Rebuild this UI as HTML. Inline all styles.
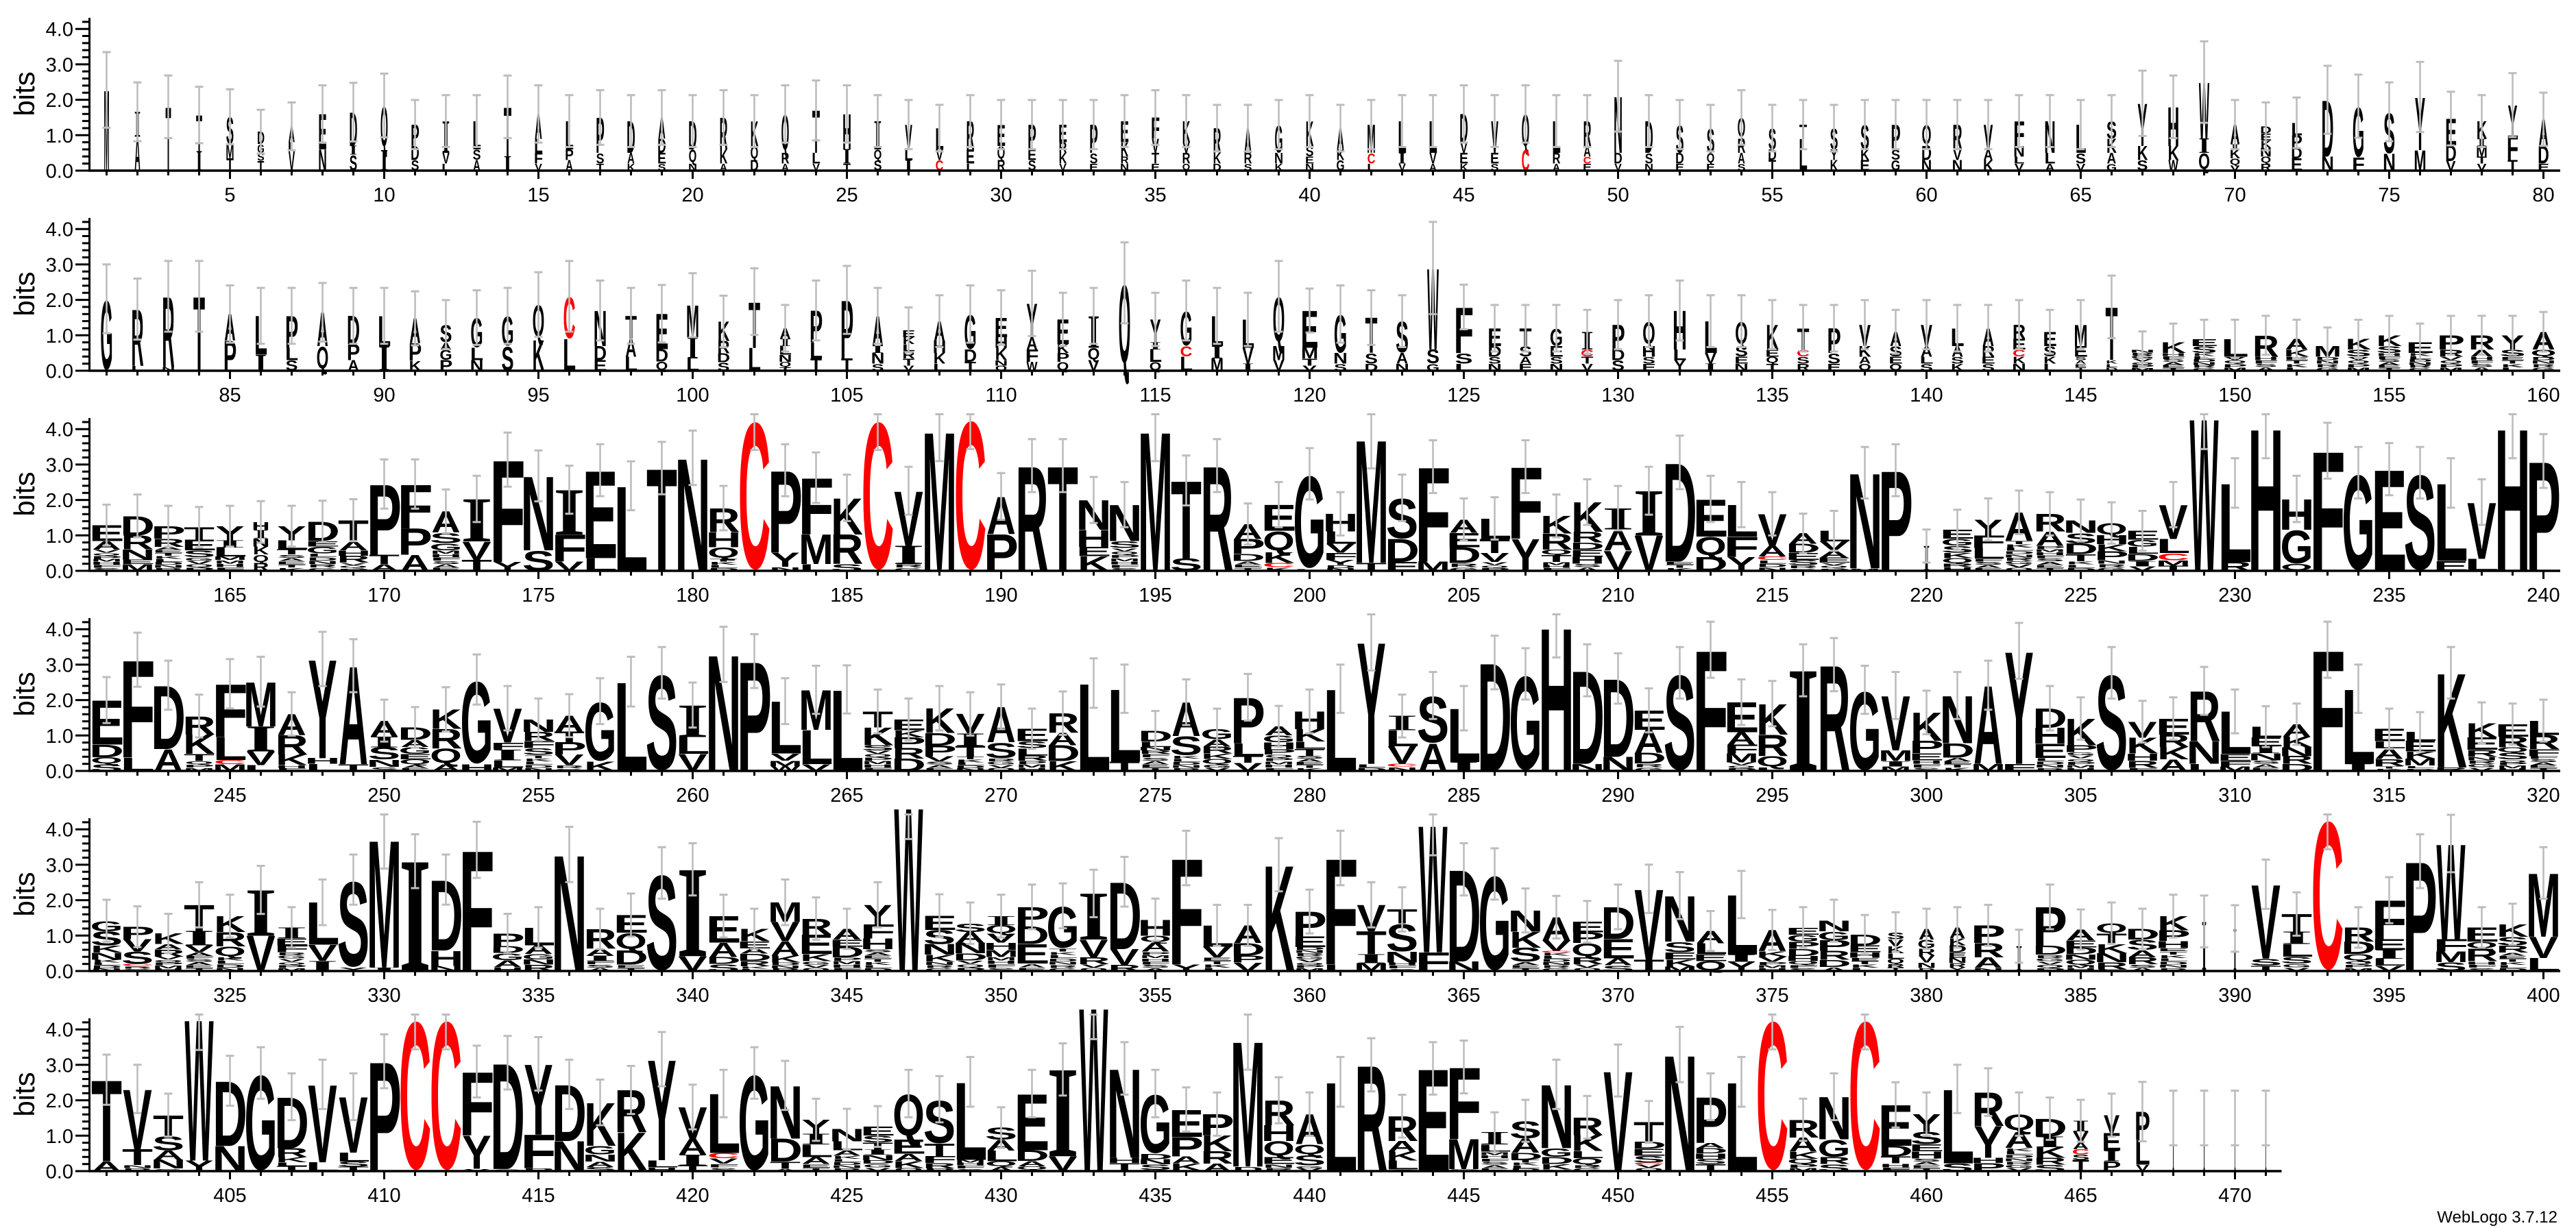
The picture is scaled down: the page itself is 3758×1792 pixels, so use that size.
<!DOCTYPE html>
<html><head><meta charset="utf-8">
<style>
html,body{margin:0;padding:0;background:#fff;width:3758px;height:1792px;overflow:hidden}
#root svg{display:block}
</style></head>
<body>
<div id="root"></div>
<script>
(function(){
var R=[
"%16 M228|%20 I70 A96|%18 T180|%20 T102 I55|%24 S77 M40 T35|%22 D35 G25 S22 T28|%22 A45 L25 V55|%24 E100 N60|%24 D95 I25 S45|%24 Q126 I58|%25 P60 D40 S30|%25 I90 V30 L20|%25 L80 S30 A30|%25 T140 I40|%25 A70 L40 F30 V20|%25 L80 P30 A30|%25 P100 S30 T20|%25 D90 A30 K20|%25 A60 D40 E30 S20|%25 D80 Q40 N20|%25 R90 K40 A20|%25 K70 Q40 D30|%25 Q110 R30 A20|%25 T120 L30 V20|%25 H100 I40 T20|%25 I80 Q30 S30|%25 V70 L30 I30|%25 L60 V30 C30|%25 R80 E40 L20|%25 E60 Q40 R30|%25 P70 E30 S30|%25 E50 R30 K30 V20|%25 P80 S30 E20|%25 E60 K40 R20 N20|%25 F60 V40 T30 E20|%25 K60 V30 R30 Q20|%25 R70 K30 D20|%25 A70 R30 S20|%25 G80 N30 K20|%25 K70 S30 E20 N20|%25 A60 K30 G30|%25 M80 C30 L20|%25 L90 I30 V20|%25 L90 V30 A20|%25 D80 V30 E30 K20|%25 V90 E30 S20|%25 Q100 C60|%25 L90 R30 A20|%25 R70 A30 C20 E20|%25 N160 D30 V20|%25 D90 S30 N20|%25 S80 D30 E20|%25 S70 Q30 E20|%25 Q60 R40 A30 S20|%25 S60 D30 T30|%25 T40 L90|%25 S60 Y30 K30|%28 S70 K30 E30|%28 P70 S30 G30|%30 Q60 D40 N30|%30 R70 V30 N30|%32 V70 A30 K30|%32 F70 N30 L20 V20|%32 N90 L30 A20|%32 L80 S30 V20|%32 S50 K40 A30 G20|%34 Y120 K40 S30|%34 H110 K40 W30|%36 W160 I40 Q50|%33 A55 I15 K25 Q20 V15|%33 D20 E20 K20 N25 Q20 R20|%33 L35 P35 D30 E35|%36 D160 N40|%36 G145 F37|%36 S118 N48|%36 Y150 M58|%33 E75 D45 V27|%33 K50 I20 M30 T20 V20|%33 Y85 F70 T30|%33 A75 D50 E20",
"%38 G203|%38 R160 L14|%38 R200 N10|%38 T210|%38 A75 P85|%38 L110 I45|%38 P90 L35 S30|%38 A95 Q70|%38 D80 P45 A30|%38 L85 I70|%38 A70 P50 K28|%38 S50 A20 G30 P30|%38 G85 L35 N30|%38 G85 S70|%38 Q100 K87|%38 C120 L90|%38 N100 D40 E30|%38 T65 A50 L40|%38 E100 D35 Q26|%38 M90 I60 L35|%38 K55 R35 D25 S24|%38 T130 L65|%38 A30 I20 L25 N20 Q15 T10|%38 P90 L45 T35|%38 P165 T35|%38 A85 I20 N30 S20|%38 E20 K20 L20 R20 T20 V15|%38 A55 H35 K30 L20|%38 G100 D35 T25|%38 E55 H30 K35 N15 Q15|%38 Y95 A35 F35 W25|%38 E70 K25 P25 Q25|%38 I90 Q35 V30|%38 Q248|%38 Y65 I20 L35 Q25|%38 G100 C30 L40|%38 L85 I35 M35|%38 L80 V45 I20|%38 Q140 M40 V30|%50 E105 M30 T20 V15|%40 G110 N30 S20|%40 T100 S30 D20|%40 S90 A30 N20|%40 W230 S40 G20|%55 F130 S30 L20|%40 E50 D30 S20 N20|%40 T50 S30 A20 E20|%40 G50 E30 S20 N20|%40 I50 C20 T20 V20|%40 P70 D30 S30|%40 Q70 H30 S20 E20|%40 H110 L30 Y30|%40 L90 V30 I20|%40 Q70 S30 E20 N20|%40 K70 E20 Q20 T20|%40 T60 C20 S20 R20|%40 P70 S30 E20|%40 V60 K30 A20 Q20|%40 A40 S30 E20 Q20|%40 V60 A30 L20 S20|%40 L50 A30 S20 K20|%40 A50 R30 E20 S20|%40 R40 E30 C20 K20 N20|%40 E40 S30 K20 L20|%40 M60 E30 *40|%40 T150 *30|%80 *60|%80 K30 *50|%80 E20 S20 *50|%80 L50 *40|%80 R60 *40|%80 A30 K20 *40|%80 M30 *40|%80 K30 S20 *40|%80 K30 S20 *50|%80 E30 *50|%80 P40 R20 *40|%80 R40 A20 *40|%80 Y40 S20 *40|%80 A50 Q20 *40",
"E45 A24 *60|D55 R39 N29 E13 M19|P35 R23 *68|T35 E30 S20 *38|Y40 I20 L25 M10 *31|%50 H23 I23 N23 K23 Q23 R23|Y40 L25 T15 *46|D55 E15 G20 *49|T60 A25 H15 R20 *23|P200 T26 A19|F125 P75 A45|A60 S30 G20 *58|I120 V52 T31|F289 Y25|N210 S58|I126 F77 V26|E248 L36|L240|T290|N319|R68 H42 Q32 *35|C429|P232 Y40 *12|F160 M84 L19|K103 R84 S19|C429|V155 I52 *19|M394|C432|A106 P104|R297|T297|N84 H48 E26 K42|N103 S20 *64|M394|T220 S35|R297|A42 P42 D20 *28|E74 Q61 K30 C12 *10|G268 *6|H50 L35 V25 F20 Y15 *16|M348 T23|S116 D65 E25|F268 M26|A38 E40 D45 *22|L58 T40 V25 *25|F203 Y91|K50 R45 Q15 T20 *25|K84 R30 D20 E20 H20 *20|I60 A60 V57|I126 V100|D280 *26|E106 Q58 D39|L90 F58 Y39|V90 A30 C10 *31|A30 D25 E20 S15 *16|L30 V25 A20 E15 *23|N270 *7|P284|%20 I70|E25 G20 S20 K15 Q15 R10 *11|Y45 F35 L30 *35|A80 *85|R50 A40 *71|N35 S30 D30 T20 *27|Q35 H25 K20 P25 *30|E25 G20 L20 D20 I15 *13|V97 L40 C20 M15 T15|W432|L223 R25|H403|H87 G97 Q19|F339|G277|E287|S277|L220 E28|V160 L34|H403|P310",
"E126 D35 Q20 S19|F276 L38|D180 A62|R52 K55 T20 *28|F150 L65 C12 M19|M126 I71 V39 L16|A60 R55 K30 *16|Y280 H16 L20|A278 T19|A45 I30 S35 N20 *12|D35 A20 G20 E15 Q15 *18|K55 R55 Q45 A19|G239 H19|V97 F20 I30 L20 M10|N35 R25 F20 S20 *45|A45 T30 P35 V30 *16|G171 K26|L252|S277|I90 L48 V48|N329|P310|L148 V20 M15 W14|M113 L97 V19|L230|T45 K50 S15 *58|E30 K20 P30 R30 D35|K70 D35 P30 V15 *27|V55 I35 T30 *41|A100 S45 *36|E35 S20 L20 R15 *29|R55 A35 D45 K28|L248|L206 T26|D30 L15 N10 R10 *48|A95 S55 *44|G30 A20 R20 K15 Q15 *19|P130 L35 T20 V23|A25 G20 H20 P15 *46|H50 K35 L20 T20 *43|L232|Y345 *20|I40 L45 V50 C8 *12|S135 A78|L152 I25|D306|G274|H406|D264 N20|D221 N40|E55 A65 D30 *21|S277|F342|E85 A35 F25 M25 *24|K87 R60 Q33 L10|I284|R300|G229|V155 M30 I15 *13|K80 P35 E20 *30|N135 D40 *38|A222 M20|Y319 F20|D55 H45 E40 *37|K75 P20 *53|S277|V45 K45 H20 R20 *9|E45 R35 K35 A33|R142 N64 L20|L120 E20 F15 M13|L30 E25 I20 N20 *30|A35 K30 N25 R22 D20|F342|L212 I20|E35 L20 A30 R20 *14|L25 E30 K20 M20 *15|K267 R10|K40 E35 R20 *40|E35 R30 Q15 S20 *32|L40 R40 F20 *42",
"G30 S40 K20 N20 *32|P35 V35 S35 C6 *14|K30 A15 R20 *41|T74 I40 V20 A10 *43|K45 R40 Q30 *40|I129 V100|I30 E20 F20 *53|L120 V45 I29|S248 Y10|M361 I10|I310|D200 H43 N15|F342|P35 D20 G20 A20 *11|L50 A25 G15 N15 R18|N329|R55 A20 I15 *29|E50 Q50 D40 *18|S277|I245 V42|E75 A40 D20 S20|K35 E20 A15 D20 R15 *14|M55 V55 A40 K20 *24|R45 E55 K20 *28|A30 E20 D30 *39|Y55 F40 H30 *62|W464|E40 S40 N30 K20 *26|S25 A30 N30 D20 *30|I25 Q25 V25 H20 M20 *40|P55 D50 E55 *21|G120 *64|I130 V50 R20 *19|D190 V45 R17|H45 Q20 A25 *55|F300 Y19|L60 V30 *39|A50 D35 P20 V24|K300|P70 E30 *68|F300 L19|V75 T65 I25 M22|T40 S80 N30 *24|W360 F53|D260 N27|G274|N60 K45 S40 *26|A65 V30 C5 *52|E30 P30 Q40 R20 *19|D90 E55 A20 S16|V200 T32|N130 S30 E20 K20 M13|A35 L30 E20 Q28|L170 I20 Y26|A60 K15 V15 *26|E20 G20 P20 D20 H15 Q10 *18|N30 G25 P30 R25 D20 *12|D30 E20 H15 *38|%55 S20 V20 K20 L15 Q15 R10 T10|%55 A30 G25 R20 V20 N15 *9|%55 A30 K20 D20 E15 N15 R13 Y10|P50 R40 A30 *9|%20 I70|P110 D25 *46|A30 E20 D20 N15 Q15 *17|Q30 T30 K25 N25 R20 *5|D30 S30 A20 R20 *19|K40 P30 H20 *65|%15 I140|%10 I120|V210 S20 T15|T50 I35 L35 S20 *21|C432|R40 D35 Q20 *28|F110 E30 I25 L20 V15|P310|W270 F35 M30 S25|E40 Q20 R35 *28|K35 S25 R20 *52|M180 V60 L37",
"T230 A28|V170 T45 *17|T60 S40 A25 N25 *8|W400 Y30|D184 N71|G277|D145 R25 K15 L10 T15|V220 L25|V158 L25 S15 T12|P310|C432|C432|F180 Y94 *7|D300 *6|Y200 F95 *8|D160 N85|K122 G25 N20 A15 S12|R120 K105 *4|Y285 L20 *11|V90 A45 I30 T16|L168 C15 V15 *21|G277|N150 D65 T20 *7|Y40 I30 L35 A20 *20|N35 L25 A15 *44|E25 S20 T20 I15 N15 D10 *21|Q130 E40 A20 K20 *9|S125 T35 F20 R15 *8|L220 *32|S35 A30 L30 Q15 *13|E160 D30 A15 Q10 *4|I245 V42|W464|N252 H15 T20 *3|G170 D15 N15 S15 *4|E77 P55 A20 K20 *2|P60 K45 R35 A21|M355 *13|R70 H45 Q45 E20 *20|A85 Q30 S30 *16|L252|R300|R70 A30 K25 L25 *5|E290|F203 M85 *6|I35 L20 *55|S50 A40 D20 *32|N180 G25 D20 K15 *5|R50 K45 L20 Q20 *17|V284|T55 D20 E20 S20 C5 *19|N329|P130 A15 D15 H15 S15 T20|L252|C432|R50 A40 K20 Q15 *20|N120 G50 R20 S20|C432|E115 D30 T20 *22|Y50 S35 E20 H20 *36|L210 S22|R95 Y90 H15 P23|Q50 A45 *66|D50 I30 K30 R20 S18|%55 I30 V30 A20 C15 S15 T32|%55 V50 E50 I30 P28|%45 P80 L70 V18|%5 I150|%5 I150|%4 I150|%4 I150"
];
var INK={A:.71,B:.6,C:.64,D:.60,E:.54,F:.49,G:.68,H:.58,I:.35,K:.65,L:.51,M:.69,N:.58,P:.55,Q:.70,R:.63,S:.59,T:.57,V:.66,W:.94,Y:.66};
var JUNK="SAETKLDNRGVQPMHF";
var S=51.7, jc=0;
var letters=[], bars=[], axes=[], labels=[];
var SANS="'Liberation Sans',Arial,sans-serif", SERIF="'Liberation Serif','Times New Roman',serif";
function L(ch,cx,yb,w,h){
  if(h<0.5||w<0.8) return;
  var ink=INK[ch]||.6, cap=.70, desc=0, fam=SANS;
  if("CGSO".indexOf(ch)>=0){cap=.73;desc=.015;}
  if(ch==='Q'){cap=.79;desc=.075;}
  if(ch==='I'){fam=SERIF;cap=.662;ink=.35;}
  var sx=w/(ink*100), sy=h/(cap*100);
  var yy=yb-desc*100*sy;
  letters.push('<text transform="translate('+cx.toFixed(1)+','+yy.toFixed(2)+') scale('+sx.toFixed(4)+','+sy.toFixed(4)+')" font-family="'+fam+'" fill="'+(ch==='C'?'#ff0000':'#000')+'">'+ch+'</text>');
}
for(var r=0;r<6;r++){
  var B=249+292*r;
  var cols=R[r].split('|');
  for(var i=0;i<cols.length;i++){
    var cx=155.5+i*45, w=1, toks=[];
    var parts=cols[i].trim().split(/\s+/);
    for(var p=0;p<parts.length;p++){
      var m=parts[p].match(/^([A-Z*%])(\d+)$/); if(!m) continue;
      if(m[1]==='%') w=(+m[2])/100; else toks.push([m[1],(+m[2])/100]);
    }
    var tot=0; for(var t=0;t<toks.length;t++) tot+=toks[t][1];
    var yc=B-tot*S, W=42*w;
    for(var t2=0;t2<toks.length;t2++){
      var ch=toks[t2][0], hp=toks[t2][1]*S;
      if(ch==='*'){
        var n=Math.max(1,Math.round(toks[t2][1]/0.09)), hh=hp/n;
        for(var j=0;j<n;j++){ L(JUNK[jc++%JUNK.length],cx,yc+hh*(j+1),W*0.9,hh*0.85); }
      } else L(ch,cx,yc+hp,W,hp);
      yc+=hp;
    }
    var err = w<0.5 ? 0.2+0.38*tot : 0.45+0.1*tot;
    var eTop=Math.min(tot+err,4.42), eBot=Math.max(tot-err,0);
    if(eTop>eBot){
      var ey1=B-eTop*S, ey2=B-eBot*S;
      bars.push('<rect x="'+(cx-1.3).toFixed(1)+'" y="'+ey1.toFixed(1)+'" width="2.6" height="'+(ey2-ey1).toFixed(1)+'"/>');
      bars.push('<rect x="'+(cx-6).toFixed(1)+'" y="'+(ey1-1.5).toFixed(1)+'" width="12" height="3"/>');
      bars.push('<rect x="'+(cx-6).toFixed(1)+'" y="'+(ey2-1.5).toFixed(1)+'" width="12" height="3"/>');
    }
  }
  var xEnd = (r===5) ? (155.5+(cols.length-1)*45+23) : 3735;
  axes.push('<line x1="129" y1="'+B+'" x2="'+xEnd+'" y2="'+B+'" stroke-width="3.5"/>');
  axes.push('<line x1="130.5" y1="'+(B+1.5)+'" x2="130.5" y2="'+(B-223)+'" stroke-width="3"/>');
  for(var v=0;v<=21;v++){
    var ty=B-v*0.2*S, x1=(v%5===0)?110:120;
    axes.push('<line x1="'+x1+'" y1="'+ty.toFixed(1)+'" x2="130" y2="'+ty.toFixed(1)+'" stroke-width="3"/>');
  }
  for(var v2=0;v2<=4;v2++){
    labels.push('<text x="107" y="'+(B-v2*S+10.5).toFixed(1)+'" text-anchor="end" font-size="29">'+v2+'.0</text>');
  }
  labels.push('<text transform="translate(50,'+(B-112)+') rotate(-90)" text-anchor="middle" font-size="42">bits</text>');
  for(var k=0;k<cols.length;k++){
    var pos=r*80+k+1, xk=155.5+k*45, big=(pos%5===0);
    axes.push('<line x1="'+xk+'" y1="'+B+'" x2="'+xk+'" y2="'+(B+(big?12:7))+'" stroke-width="3"/>');
    if(big) labels.push('<text x="'+xk+'" y="'+(B+45)+'" text-anchor="middle" font-size="29">'+pos+'</text>');
  }
}
var svg='<svg xmlns="http://www.w3.org/2000/svg" width="3758" height="1792" viewBox="0 0 3758 1792">'+
 '<rect width="3758" height="1792" fill="#fff"/>'+
 '<g font-size="100" font-weight="bold" text-anchor="middle">'+letters.join('')+'</g>'+
 '<g fill="#bdbdbd">'+bars.join('')+'</g>'+
 '<g stroke="#000" fill="none">'+axes.join('')+'</g>'+
 '<g font-family="'+SANS+'" fill="#000">'+labels.join('')+
 '<text x="3731" y="1784" text-anchor="end" font-size="24">WebLogo 3.7.12</text></g>'+
 '</svg>';
document.getElementById('root').innerHTML=svg;
})();
</script>
</body></html>
